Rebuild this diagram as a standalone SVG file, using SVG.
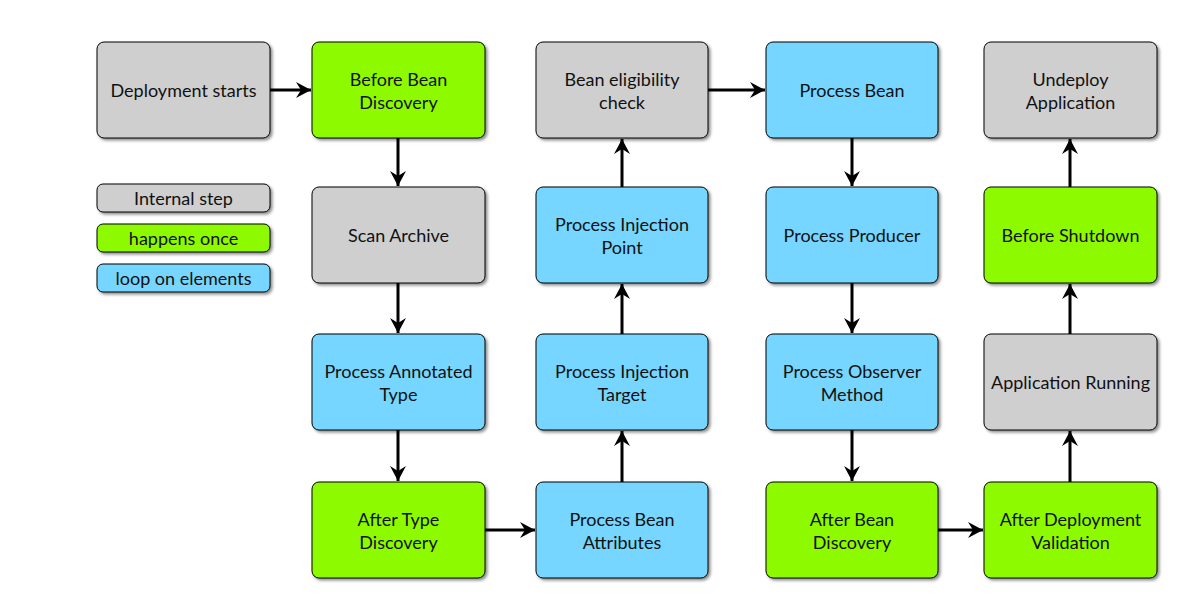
<svg xmlns="http://www.w3.org/2000/svg" width="1185" height="607" viewBox="0 0 1185 607">
  <defs>
    <filter id="shadow" x="-10%" y="-10%" width="125%" height="130%">
      <feDropShadow dx="2" dy="2" stdDeviation="1.5" flood-color="#000" flood-opacity="0.45"/>
    </filter>
    <marker id="arrow" markerUnits="userSpaceOnUse" markerWidth="18" markerHeight="18" viewBox="-16 -9 18 18" refX="0" refY="0" orient="auto">
      <path d="M0,0 L-15,-8 L-10,0 L-15,8 Z" fill="#000"/>
    </marker>
  </defs>
  <style>
    .box { stroke: #000; stroke-width: 1; filter: url(#shadow); }
    .internal { fill: #cfcfcf; }
    .once { fill: #8efa00; }
    .loop { fill: #76d6ff; }
    text { font-family: "Lato", "Open Sans", sans-serif; font-size: 18px; fill: #111; text-anchor: middle; }
    .conn { stroke: #000; stroke-width: 3; fill: none; marker-end: url(#arrow); }
  </style>
  <rect width="1185" height="607" fill="#fff"/>

  <!-- legend -->
  <g id="legend-internal">
    <rect class="box internal" x="97" y="184" width="173" height="28" rx="6"/>
    <text x="183.5" y="205">Internal step</text>
  </g>
  <g id="legend-once">
    <rect class="box once" x="97" y="224" width="173" height="28" rx="6"/>
    <text x="183.5" y="245">happens once</text>
  </g>
  <g id="legend-loop">
    <rect class="box loop" x="97" y="264" width="173" height="28" rx="6"/>
    <text x="183.5" y="285">loop on elements</text>
  </g>

  <!-- column 1 -->
  <g id="deployment-starts">
    <rect class="box internal" x="97" y="42" width="173" height="96" rx="7"/>
    <text x="183.5" y="97">Deployment starts</text>
  </g>

  <!-- column 2 -->
  <g id="before-bean-discovery">
    <rect class="box once" x="312" y="42" width="173" height="96" rx="7"/>
    <text x="398.5" y="86">Before Bean</text>
    <text x="398.5" y="109">Discovery</text>
  </g>
  <g id="scan-archive">
    <rect class="box internal" x="312" y="187" width="173" height="96" rx="7"/>
    <text x="398.5" y="242">Scan Archive</text>
  </g>
  <g id="process-annotated-type">
    <rect class="box loop" x="312" y="334" width="173" height="96" rx="7"/>
    <text x="398.5" y="378">Process Annotated</text>
    <text x="398.5" y="401">Type</text>
  </g>
  <g id="after-type-discovery">
    <rect class="box once" x="312" y="482" width="173" height="96" rx="7"/>
    <text x="398.5" y="526">After Type</text>
    <text x="398.5" y="549">Discovery</text>
  </g>

  <!-- column 3 -->
  <g id="bean-eligibility-check">
    <rect class="box internal" x="536" y="42" width="172" height="96" rx="7"/>
    <text x="622" y="86">Bean eligibility</text>
    <text x="622" y="109">check</text>
  </g>
  <g id="process-injection-point">
    <rect class="box loop" x="536" y="187" width="172" height="96" rx="7"/>
    <text x="622" y="231">Process Injection</text>
    <text x="622" y="254">Point</text>
  </g>
  <g id="process-injection-target">
    <rect class="box loop" x="536" y="334" width="172" height="96" rx="7"/>
    <text x="622" y="378">Process Injection</text>
    <text x="622" y="401">Target</text>
  </g>
  <g id="process-bean-attributes">
    <rect class="box loop" x="536" y="482" width="172" height="96" rx="7"/>
    <text x="622" y="526">Process Bean</text>
    <text x="622" y="549">Attributes</text>
  </g>

  <!-- column 4 -->
  <g id="process-bean">
    <rect class="box loop" x="766" y="42" width="172" height="96" rx="7"/>
    <text x="852" y="97">Process Bean</text>
  </g>
  <g id="process-producer">
    <rect class="box loop" x="766" y="187" width="172" height="96" rx="7"/>
    <text x="852" y="242">Process Producer</text>
  </g>
  <g id="process-observer-method">
    <rect class="box loop" x="766" y="334" width="172" height="96" rx="7"/>
    <text x="852" y="378">Process Observer</text>
    <text x="852" y="401">Method</text>
  </g>
  <g id="after-bean-discovery">
    <rect class="box once" x="766" y="482" width="172" height="96" rx="7"/>
    <text x="852" y="526">After Bean</text>
    <text x="852" y="549">Discovery</text>
  </g>

  <!-- column 5 -->
  <g id="undeploy-application">
    <rect class="box internal" x="984" y="42" width="173" height="96" rx="7"/>
    <text x="1070.5" y="86">Undeploy</text>
    <text x="1070.5" y="109">Application</text>
  </g>
  <g id="before-shutdown">
    <rect class="box once" x="984" y="187" width="173" height="96" rx="7"/>
    <text x="1070.5" y="242">Before Shutdown</text>
  </g>
  <g id="application-running">
    <rect class="box internal" x="984" y="334" width="173" height="96" rx="7"/>
    <text x="1070.5" y="389">Application Running</text>
  </g>
  <g id="after-deployment-validation">
    <rect class="box once" x="984" y="482" width="173" height="96" rx="7"/>
    <text x="1070.5" y="526">After Deployment</text>
    <text x="1070.5" y="549">Validation</text>
  </g>

  <!-- connectors -->
  <g id="connectors">
    <path class="conn" d="M270,90 H311"/>
    <path class="conn" d="M398,138 V186"/>
    <path class="conn" d="M398,283 V333"/>
    <path class="conn" d="M398,430 V481"/>
    <path class="conn" d="M485,530 H535"/>
    <path class="conn" d="M622,482 V431"/>
    <path class="conn" d="M622,334 V284"/>
    <path class="conn" d="M622,187 V139"/>
    <path class="conn" d="M708,90 H765"/>
    <path class="conn" d="M852,138 V186"/>
    <path class="conn" d="M852,283 V333"/>
    <path class="conn" d="M852,430 V481"/>
    <path class="conn" d="M938,530 H983"/>
    <path class="conn" d="M1070,482 V431"/>
    <path class="conn" d="M1070,334 V284"/>
    <path class="conn" d="M1070,187 V139"/>
  </g>
</svg>
